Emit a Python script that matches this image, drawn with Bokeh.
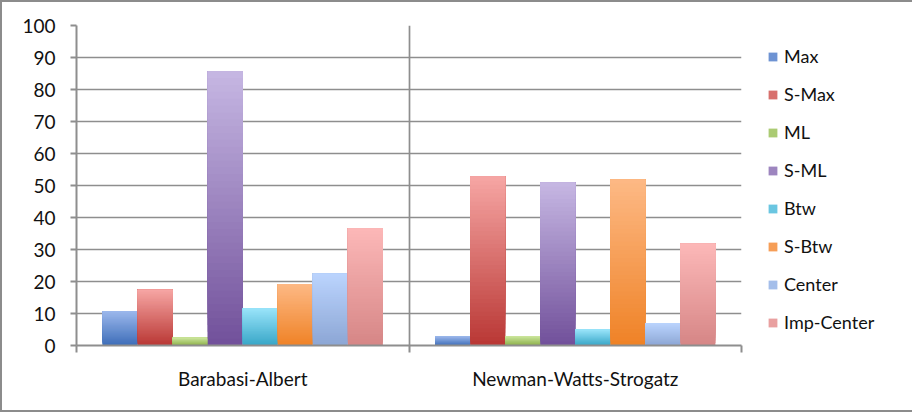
import numpy as np
from bokeh.plotting import figure
from bokeh.models import ColumnDataSource, Range1d, FixedTicker, Legend, LegendItem
from bokeh.embed import file_html
from bokeh.resources import INLINE

# ---- data ----
categories = ["Barabasi-Albert", "Newman-Watts-Strogatz"]
series = ["Max", "S-Max", "ML", "S-ML", "Btw", "S-Btw", "Center", "Imp-Center"]
max_vals = [10.7, 2.9]
smax_vals = [17.4, 52.9]
ml_vals = [2.4, 2.9]
sml_vals = [85.7, 50.9]
btw_vals = [11.6, 5.0]
sbtw_vals = [19.2, 51.9]
center_vals = [22.4, 7.0]
impcenter_vals = [36.6, 31.8]
all_vals = [max_vals, smax_vals, ml_vals, sml_vals, btw_vals, sbtw_vals, center_vals, impcenter_vals]
y_ticks = list(range(0, 101, 10))

# gradient colors (top, bottom) per series
top_colors = ["#9cb8ec", "#f6a6a4", "#cbe69c", "#c6b7e3", "#9ae4fa", "#fdb985", "#bbd4fe", "#fcb8b8"]
bottom_colors = ["#3d6db8", "#b93734", "#8aae48", "#71509a", "#37a6c7", "#ef8226", "#8ca6d4", "#d68686"]

FONT = "Lato"
N_SLICES = 40
GRID = "#8e8e8e"


def hex_to_rgb(h):
    h = h.lstrip("#")
    return np.array([int(h[i:i + 2], 16) for i in (0, 2, 4)], dtype=float)


def mix(c_bottom, c_top, t):
    a, b = hex_to_rgb(c_bottom), hex_to_rgb(c_top)
    c = a + (b - a) * t
    return "#%02x%02x%02x" % tuple(int(round(v)) for v in c)


p = figure(frame_width=665, frame_height=320,
           x_range=Range1d(0, len(categories)), y_range=Range1d(0, 100),
           output_backend="svg", toolbar_location=None,
           min_border_left=74, min_border_right=167, min_border_top=23, min_border_bottom=65)
p.styles = {"border": "2px solid #8c8c8c"}
p.outline_line_color = None
p.background_fill_color = "white"
p.border_fill_color = "white"

group_frac = 0.843
bw = group_frac / len(series)

items = []
for i, (name, vals) in enumerate(zip(series, all_vals)):
    xs, bots, tops, cols = [], [], [], []
    for j, v in enumerate(vals):
        xc = j + 0.5 + (i - (len(series) - 1) / 2) * bw
        for k in range(N_SLICES):
            xs.append(xc)
            bots.append(v * k / N_SLICES)
            tops.append(v)
            cols.append(mix(bottom_colors[i], top_colors[i], (k + 0.5) / N_SLICES))
    src = ColumnDataSource(dict(x=xs, bottom=bots, top=tops, color=cols))
    r = p.vbar(x="x", bottom="bottom", top="top", width=bw, source=src,
               fill_color="color", line_color=None)
    items.append(LegendItem(label=name, renderers=[r], index=N_SLICES // 2))

legend = Legend(items=items, location=(26, 12), orientation="vertical",
                glyph_width=11, glyph_height=11, label_height=20, spacing=16,
                padding=0, margin=0, label_standoff=6,
                border_line_color=None, background_fill_alpha=0,
                label_text_font=FONT, label_text_font_size="18px", label_text_color="#111111")
p.add_layout(legend, "right")

# y axis
p.yaxis.ticker = FixedTicker(ticks=y_ticks)
p.yaxis.axis_line_color = GRID
p.yaxis.axis_line_width = 2
p.yaxis.major_tick_line_color = GRID
p.yaxis.major_tick_line_width = 2
p.yaxis.major_tick_out = 6
p.yaxis.major_tick_in = 0
p.yaxis.minor_tick_line_color = None
p.yaxis.major_label_text_font = FONT
p.yaxis.major_label_text_font_size = "19px"
p.yaxis.major_label_text_color = "#111111"
p.yaxis.major_label_standoff = 15

# x axis: labels at centers, ticks at category boundaries
centers = [j + 0.5 for j in range(len(categories))]
bounds = [j for j in range(len(categories) + 1)]
p.xaxis.ticker = FixedTicker(ticks=centers, minor_ticks=bounds)
p.xaxis.major_label_overrides = {c: lab for c, lab in zip(centers, categories)}
p.xaxis.axis_line_color = GRID
p.xaxis.axis_line_width = 2
p.xaxis.major_tick_line_color = None
p.xaxis.major_tick_out = 0
p.xaxis.major_tick_in = 0
p.xaxis.minor_tick_line_color = GRID
p.xaxis.minor_tick_line_width = 2
p.xaxis.minor_tick_out = 7
p.xaxis.minor_tick_in = 0
p.xaxis.major_label_text_font = FONT
p.xaxis.major_label_text_font_size = "19px"
p.xaxis.major_label_text_color = "#111111"
p.xaxis.major_label_standoff = 14

# grids
p.ygrid.ticker = FixedTicker(ticks=y_ticks)
p.ygrid.grid_line_color = GRID
p.ygrid.grid_line_width = 1.7
p.xgrid.ticker = FixedTicker(ticks=bounds)
p.xgrid.grid_line_color = GRID
p.xgrid.grid_line_width = 1.7

open("out.html", "w").write(file_html(p, INLINE))
